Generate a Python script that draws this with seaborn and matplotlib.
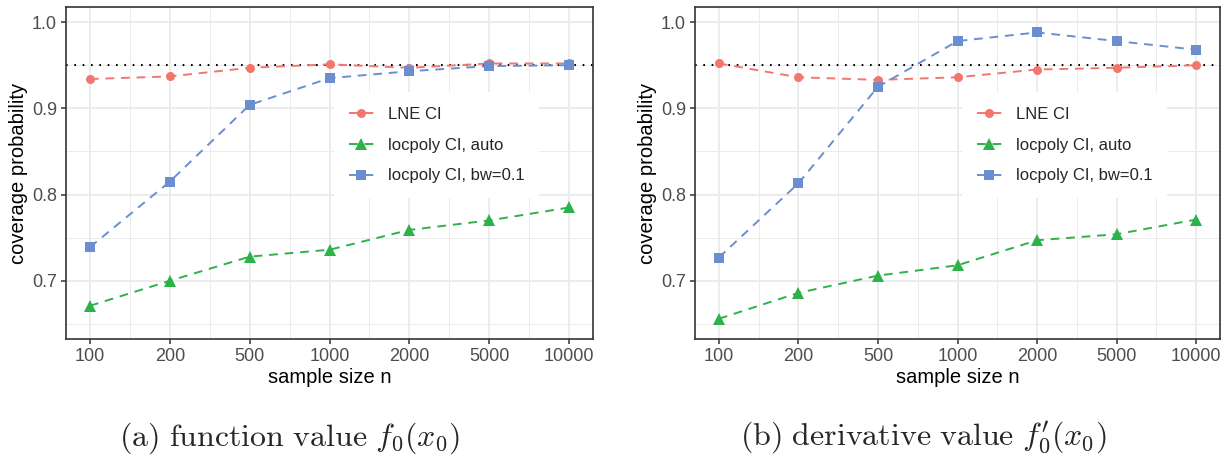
import numpy as np
import pandas as pd
import matplotlib
matplotlib.use("Agg")
import matplotlib.pyplot as plt
from matplotlib.lines import Line2D
from matplotlib.ticker import FixedLocator
import seaborn as sns

# Sample sizes shown on the x axis (evenly spaced categories)
sample_sizes = ["100", "200", "500", "1000", "2000", "5000", "10000"]
methods = ["LNE CI", "locpoly CI, auto", "locpoly CI, bw=0.1"]

# Coverage probabilities for the function value f0(x0)
func_lne = [0.934, 0.937, 0.947, 0.951, 0.947, 0.952, 0.952]
func_auto = [0.671, 0.700, 0.728, 0.736, 0.759, 0.770, 0.785]
func_bw = [0.739, 0.815, 0.904, 0.935, 0.943, 0.949, 0.950]

# Coverage probabilities for the derivative value f0'(x0)
deriv_lne = [0.952, 0.936, 0.933, 0.936, 0.945, 0.947, 0.950]
deriv_auto = [0.656, 0.686, 0.706, 0.718, 0.747, 0.754, 0.771]
deriv_bw = [0.727, 0.813, 0.925, 0.978, 0.988, 0.978, 0.968]

nominal_level = 0.95
captions = [r"$\mathrm{(a)\ function\ value\ }f_0(x_0)$",
            r"$\mathrm{(b)\ derivative\ value\ }f_0'(x_0)$"]

palette = {"LNE CI": "#F3766E", "locpoly CI, auto": "#2DB24A",
           "locpoly CI, bw=0.1": "#6A8ECF"}
marker_map = {"LNE CI": "o", "locpoly CI, auto": "^", "locpoly CI, bw=0.1": "s"}
marker_size = {"LNE CI": 6.5, "locpoly CI, auto": 8, "locpoly CI, bw=0.1": 7}
dash = (0, (4.5, 3.5))


def long_frame(series):
    rows = []
    for m, vals in zip(methods, series):
        for i, v in enumerate(vals):
            rows.append({"pos": i + 1, "coverage": v, "method": m})
    return pd.DataFrame(rows)


sns.set_theme(style="white")
plt.rcParams["font.family"] = ["Liberation Sans", "DejaVu Sans"]
plt.rcParams["mathtext.fontset"] = "cm"

fig = plt.figure(figsize=(12.26, 4.58), dpi=100)
W, H = 1226, 458
panels = [
    (66, 593, [func_lne, func_auto, func_bw], 289),
    (695, 1220, [deriv_lne, deriv_auto, deriv_bw], 923),
]
top_px, bot_px = 7, 339

for k, (x0, x1, series, cap_x) in enumerate(panels):
    ax = fig.add_axes([x0 / W, 1 - bot_px / H, (x1 - x0) / W, (bot_px - top_px) / H])
    df = long_frame(series)
    ax.axhline(nominal_level, color="black", lw=1.5, ls=(0, (0.8, 3.2)), zorder=2)
    for m in methods:
        sub = df[df["method"] == m]
        sns.lineplot(data=sub, x="pos", y="coverage", color=palette[m],
                     marker=marker_map[m], markersize=marker_size[m],
                     markeredgewidth=0, lw=1.4, dashes=False,
                     linestyle=dash, ax=ax, legend=False, zorder=3)

    ax.set_xlim(0.7, 7.3)
    ax.set_ylim(0.6325, 1.0175)
    ax.xaxis.set_major_locator(FixedLocator(range(1, 8)))
    ax.xaxis.set_minor_locator(FixedLocator(np.arange(1.5, 7, 1.0)))
    ax.set_xticklabels(sample_sizes)
    ax.yaxis.set_major_locator(FixedLocator([0.7, 0.8, 0.9, 1.0]))
    ax.yaxis.set_minor_locator(FixedLocator([0.65, 0.75, 0.85, 0.95]))
    ax.set_yticklabels(["0.7", "0.8", "0.9", "1.0"])
    ax.grid(True, which="major", color="#EBEBEB", lw=1.3, zorder=0)
    ax.grid(True, which="minor", color="#EBEBEB", lw=0.7, zorder=0)
    ax.set_axisbelow(True)
    for sp in ax.spines.values():
        sp.set_color("#333333")
        sp.set_linewidth(1.2)
    ax.tick_params(axis="both", which="major", length=3.5, width=1.1,
                   color="#333333", labelsize=13, labelcolor="#4D4D4D",
                   direction="out", bottom=True, left=True, pad=3)
    ax.tick_params(axis="both", which="minor", length=0)
    ax.set_xlabel("sample size n", fontsize=14.5, color="black", labelpad=2)
    ax.set_ylabel("coverage probability", fontsize=14.5, color="black", labelpad=3)

    handles = [Line2D([0], [0], color=palette[m], marker=marker_map[m],
                      markersize=marker_size[m], markeredgewidth=0, lw=1.4,
                      linestyle=dash) for m in methods]
    leg = ax.legend(handles, methods, loc="upper left",
                    bbox_to_anchor=(0.492, 0.77), frameon=True,
                    facecolor="white", edgecolor="none", framealpha=1,
                    fontsize=12, handlelength=1.5, handletextpad=0.85,
                    labelspacing=0.95, borderpad=0.9, fancybox=False)
    leg.set_zorder(4)

    fig.text(cap_x / W, 1 - 438 / H, captions[k],
             ha="center", va="center", fontsize=23)

fig.savefig("out.png", dpi=100)
